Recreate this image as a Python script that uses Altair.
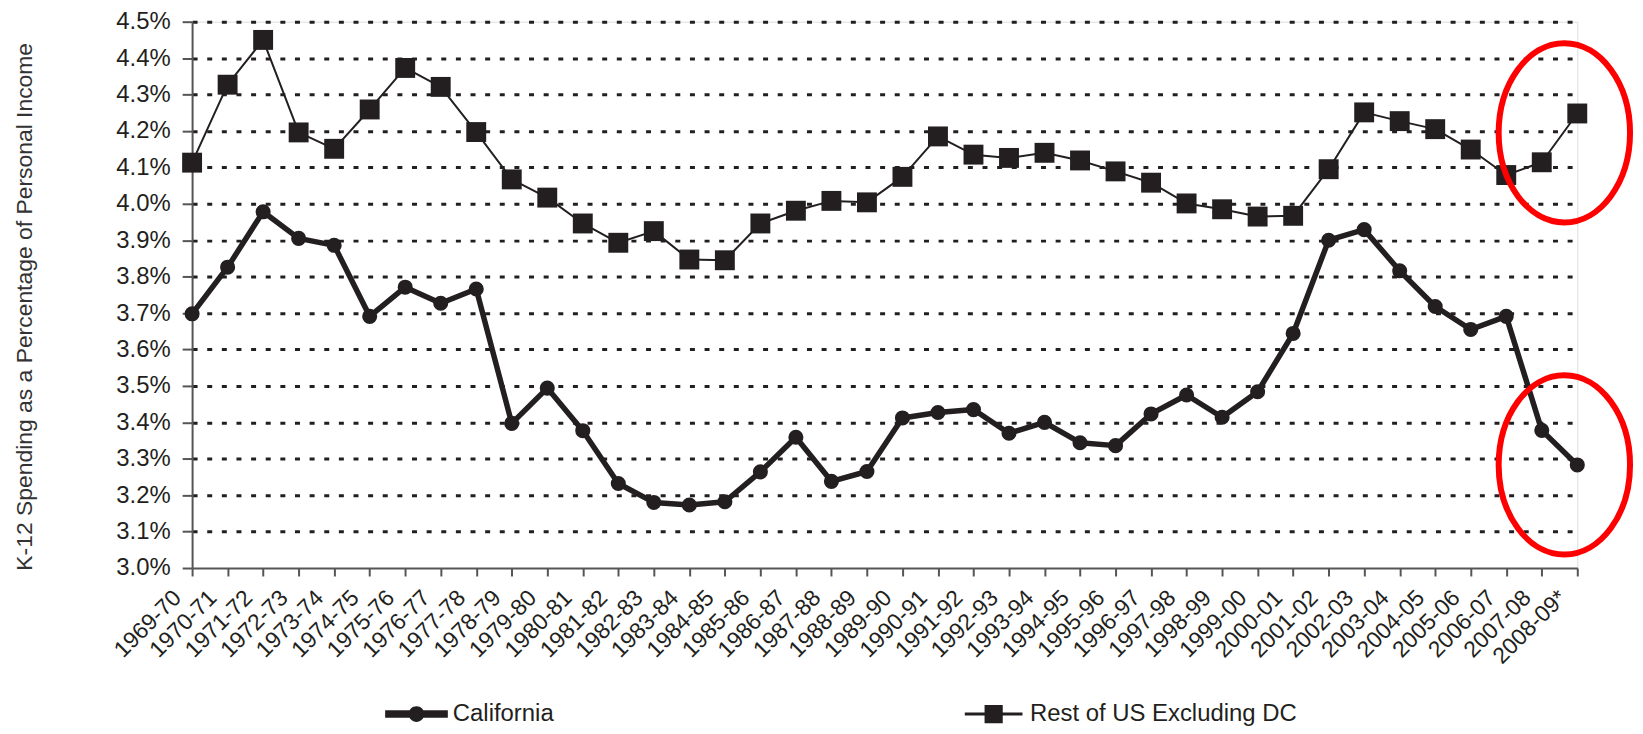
import altair as alt
import pandas as pd

years = ["1969-70", "1970-71", "1971-72", "1972-73", "1973-74", "1974-75", "1975-76",
         "1976-77", "1977-78", "1978-79", "1979-80", "1980-81", "1981-82", "1982-83",
         "1983-84", "1984-85", "1985-86", "1986-87", "1987-88", "1988-89", "1989-90",
         "1990-91", "1991-92", "1992-93", "1993-94", "1994-95", "1995-96", "1996-97",
         "1997-98", "1998-99", "1999-00", "2000-01", "2001-02", "2002-03", "2003-04",
         "2004-05", "2005-06", "2006-07", "2007-08", "2008-09*"]

california = [3.698, 3.826, 3.978, 3.905, 3.886, 3.691, 3.771, 3.727, 3.766, 3.397,
              3.494, 3.377, 3.232, 3.180, 3.173, 3.182, 3.264, 3.359, 3.238, 3.265,
              3.412, 3.427, 3.435, 3.370, 3.400, 3.344, 3.336, 3.423, 3.475, 3.414,
              3.484, 3.644, 3.900, 3.929, 3.816, 3.718, 3.655, 3.691, 3.378, 3.283]

rest_of_us = [4.113, 4.327, 4.450, 4.196, 4.151, 4.259, 4.373, 4.321, 4.197, 4.067,
              4.017, 3.946, 3.893, 3.925, 3.847, 3.845, 3.946, 3.981, 4.008, 4.004,
              4.074, 4.185, 4.135, 4.126, 4.140, 4.119, 4.089, 4.058, 4.001, 3.985,
              3.965, 3.967, 4.095, 4.251, 4.227, 4.205, 4.149, 4.079, 4.114, 4.248]

series_names = ["California", "Rest of US Excluding DC"]
y_ticks = [3.0, 3.1, 3.2, 3.3, 3.4, 3.5, 3.6, 3.7, 3.8, 3.9, 4.0, 4.1, 4.2, 4.3, 4.4, 4.5]

# highlighted (circled) region anchors
highlight_year = ["2008-09*", "2008-09*"]
highlight_value = [4.195, 3.283]

INK = "#231f20"
FONT = "Liberation Sans"

df = pd.DataFrame({
    "year": years * 2,
    "series": [series_names[0]] * len(years) + [series_names[1]] * len(years),
    "value": california + rest_of_us,
})
hl = pd.DataFrame({"year": highlight_year, "value": highlight_value})

x_scale = alt.Scale(type="point", padding=0, domain=years)
y_scale = alt.Scale(domain=[3.0, 4.5], nice=False, zero=False)

x_axis = alt.Axis(title=None, labelAngle=-45, labelAlign="right",
                  labelBaseline="middle", labelFontSize=23,
                  labelFont=FONT, labelColor=INK, labelOffset=-15,
                  labelPadding=18, tickSize=8, tickColor="#555",
                  tickWidth=2, domainColor="#555", domainWidth=2,
                  grid=False, labelOverlap=False, labelBound=False,
                  labelFlush=False)
y_axis = alt.Axis(values=y_ticks, labelOverlap=False,
                  labelExpr="format(datum.value, '.1f') + '%'",
                  title="K-12 Spending as a Percentage of Personal Income",
                  titleFont=FONT, titleFontSize=23, titleFontWeight="normal",
                  titleColor="#333", titleAngle=270, titleX=-168, titleY=286,
                  titleAlign="center", titleBaseline="middle",
                  labelFont=FONT, labelFontSize=24, labelColor=INK,
                  labelPadding=12, tickSize=10, tickColor="#555", tickWidth=2,
                  domainColor="#555", domainWidth=2,
                  grid=True, gridColor=INK, gridWidth=3, gridDash=[5, 9.7],
                  gridOpacity={"condition": {"test": "datum.value < 3.05", "value": 0},
                               "value": 1})

x_enc = alt.X("year:N", sort=years, scale=x_scale, axis=x_axis)
y_enc = alt.Y("value:Q", scale=y_scale, axis=y_axis)

base = alt.Chart(df)

line_cal = base.transform_filter(alt.datum.series == series_names[0]).mark_line(
    color=INK, strokeWidth=5.5, strokeJoin="round").encode(x=x_enc, y=y_enc)
line_rest = base.transform_filter(alt.datum.series == series_names[1]).mark_line(
    color=INK, strokeWidth=2, strokeJoin="round").encode(x=x_enc, y=y_enc)
pts_cal = base.transform_filter(alt.datum.series == series_names[0]).mark_point(
    filled=True, opacity=1, color=INK, shape="circle", size=230).encode(x=x_enc, y=y_enc)
pts_rest = base.transform_filter(alt.datum.series == series_names[1]).mark_point(
    filled=True, opacity=1, color=INK, shape="square", size=400).encode(x=x_enc, y=y_enc)

# legend-only layer (draws no marks); symbols are filled line+marker glyphs
P_CAL = ("M-1,-0.12H1V0.12H-1Z"
         "M-0.25,0A0.25,0.25 0 1,1 0.25,0A0.25,0.25 0 1,1 -0.25,0Z")
P_REST = "M-0.92,-0.05H0.92V0.05H-0.92ZM-0.29,-0.29H0.29V0.29H-0.29Z"
legend = alt.Legend(
    title=None, orient="none", legendX=194, legendY=664, direction="horizontal",
    symbolSize=3969, labelFont=FONT, labelFontSize=24, labelColor=INK,
    labelOffset=5, labelLimit=500, columnPadding=410, padding=0, symbolOpacity=1,
    symbolFillColor=INK, symbolStrokeWidth=0)
legend_layer = base.transform_filter("false").mark_point(
    filled=True, color=INK, opacity=1, strokeWidth=0).encode(
    x=x_enc, y=y_enc,
    shape=alt.Shape("series:N", scale=alt.Scale(domain=series_names, range=[P_CAL, P_REST]),
                    legend=legend),
)

P_ELL = "M-0.878,0A0.733,1 0 1,0 0.589,0A0.733,1 0 1,0 -0.878,0Z"
ellipses = alt.Chart(hl).mark_point(shape=P_ELL, size=32400, filled=False,
                                    stroke="#ff0000", strokeWidth=6, opacity=1).encode(
    x=x_enc, y=y_enc,
)

chart = alt.layer(line_rest, line_cal, pts_rest, pts_cal, legend_layer, ellipses).properties(
    width=1392, height=549,
    autosize=alt.AutoSizeParams(type="none"),
    padding={"left": 185, "top": 12, "right": 58, "bottom": 157},
).configure_view(stroke=None).configure(background="white")

chart.save("out.html", embed_options={"renderer": "svg", "actions": False})
